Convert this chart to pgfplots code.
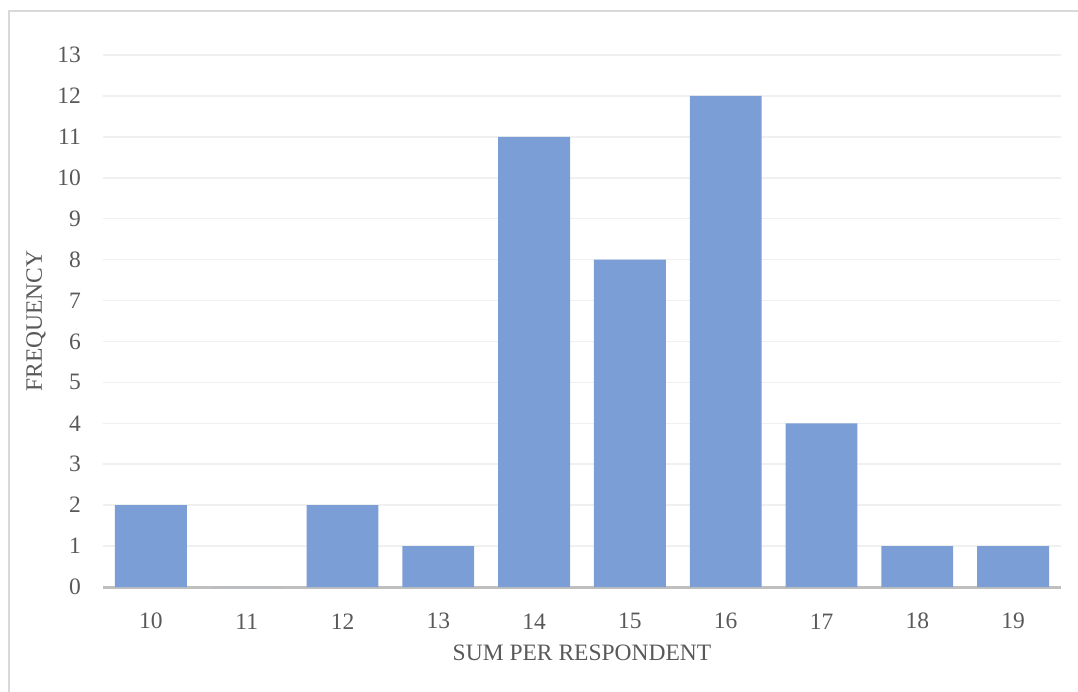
\documentclass[border=0pt]{standalone}
\usepackage{fontspec}
\setmainfont{Liberation Serif}
\usepackage{pgfplots}
\pgfplotsset{compat=1.18}

\definecolor{barblue}{RGB}{123,158,214}
\definecolor{labgray}{RGB}{89,89,89}
\definecolor{gridgray}{RGB}{240,240,240}
\definecolor{axgray}{RGB}{191,191,191}
\definecolor{framegray}{RGB}{217,217,217}

\begin{document}
\begin{tikzpicture}
  \useasboundingbox (-103pt,-104pt) rectangle (975pt,587pt);
  \begin{scope}
    \clip (-103pt,-104pt) rectangle (975pt,587pt);
    \draw[framegray, line width=2pt] (-94pt,-120pt) rectangle (990pt,576pt);
  \end{scope}
  \begin{axis}[
      scale only axis,
      width=958pt, height=532pt,
      font=\fontsize{23.5}{28}\selectfont,
      /pgf/number format/assume math mode=true,
      xmin=9.5, xmax=19.5,
      ymin=0, ymax=13,
      xtick={10,...,19},
      ytick={0,...,13},
      tick style={draw=none},
      axis y line*=left,
      y axis line style={draw=none},
      axis x line*=bottom,
      x axis line style={-, draw=axgray, line width=3pt},
      ymajorgrids,
      major grid style={draw=gridgray, line width=1.6pt},
      xticklabel style={text=labgray, anchor=center, yshift=-30pt},
      yticklabel style={text=labgray, anchor=east, inner sep=0pt, xshift=-22pt},
      xlabel={SUM PER RESPONDENT},
      ylabel={FREQUENCY},
      every axis x label/.style={at={(axis description cs:0.5,-0.124)}, anchor=center, text=labgray},
      every axis y label/.style={at={(axis description cs:-0.0699,0.5)}, anchor=center, rotate=90, text=labgray},
      ybar, bar width=0.75,
    ]
    \addplot[draw=none, fill=barblue] coordinates {
      (10,2) (11,0) (12,2) (13,1) (14,11)
      (15,8) (16,12) (17,4) (18,1) (19,1)
    };
  \end{axis}
\end{tikzpicture}
\end{document}
